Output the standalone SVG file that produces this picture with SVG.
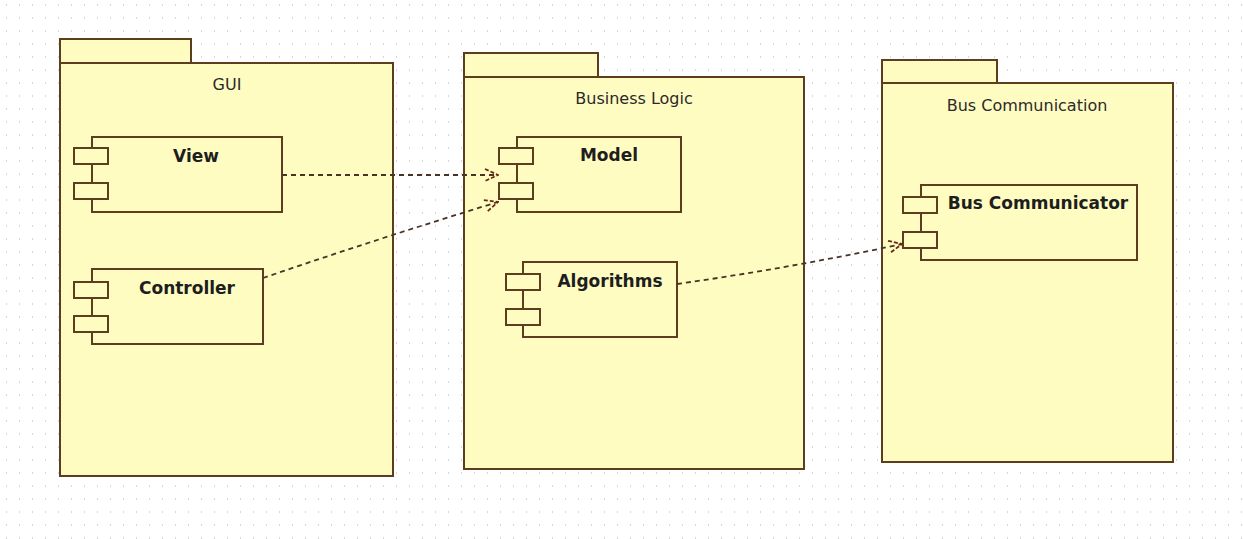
<svg xmlns="http://www.w3.org/2000/svg" width="1243" height="539" viewBox="0 0 1243 539">
  <style>
    .pkg { fill: #fffcc2; stroke: #5c3d1e; stroke-width: 2; }
    .comp { fill: #fffcc2; stroke: #5c3d1e; stroke-width: 2; }
    .port { fill: #fffcc2; stroke: #5c3d1e; stroke-width: 2; }
    .pkg-label { font-family: "DejaVu Sans", Verdana, sans-serif; font-size: 16px; fill: #2a2a2a; text-anchor: middle; }
    .comp-label { font-family: "DejaVu Sans", Verdana, sans-serif; font-size: 17px; font-weight: bold; fill: #1e1e1e; text-anchor: middle; }
    .dep { fill: none; stroke: #4a3326; stroke-width: 1.8; stroke-dasharray: 5 4; marker-end: url(#open-arrow); }
  </style>
  <defs>
    <pattern id="dot-grid" x="6" y="4" width="13" height="13" patternUnits="userSpaceOnUse">
      <rect x="0" y="0" width="1" height="2" fill="#d6d6de"/>
    </pattern>
    <marker id="open-arrow" viewBox="0 0 16 16" refX="15" refY="8" markerWidth="16" markerHeight="16" markerUnits="userSpaceOnUse" orient="auto">
      <path d="M2,2 L15,8 L2,14" fill="none" stroke="#6e2418" stroke-width="1.8" stroke-dasharray="4 2"/>
    </marker>
  </defs>

  <!-- canvas with dotted grid -->
  <rect width="1243" height="539" fill="#ffffff"/>
  <rect width="1243" height="539" fill="url(#dot-grid)"/>

  <!-- package: GUI -->
  <g id="pkg-gui">
    <rect class="pkg" x="60" y="39" width="131" height="24"/>
    <rect class="pkg" x="60" y="63" width="333" height="413"/>
    <text class="pkg-label" x="227" y="90">GUI</text>
  </g>

  <!-- package: Business Logic -->
  <g id="pkg-business-logic">
    <rect class="pkg" x="464" y="53" width="134" height="24"/>
    <rect class="pkg" x="464" y="77" width="340" height="392"/>
    <text class="pkg-label" x="634" y="104">Business Logic</text>
  </g>

  <!-- package: Bus Communication -->
  <g id="pkg-bus-communication">
    <rect class="pkg" x="882" y="60" width="115" height="23"/>
    <rect class="pkg" x="882" y="83" width="291" height="379"/>
    <text class="pkg-label" x="1027" y="111">Bus Communication</text>
  </g>

  <!-- component: View -->
  <g id="comp-view">
    <rect class="comp" x="92" y="137" width="190" height="75"/>
    <rect class="port" x="74" y="148" width="34" height="16"/>
    <rect class="port" x="74" y="183" width="34" height="16"/>
    <text class="comp-label" x="196" y="162">View</text>
  </g>

  <!-- component: Controller -->
  <g id="comp-controller">
    <rect class="comp" x="92" y="269" width="171" height="75"/>
    <rect class="port" x="74" y="282" width="34" height="16"/>
    <rect class="port" x="74" y="316" width="34" height="16"/>
    <text class="comp-label" x="187" y="294">Controller</text>
  </g>

  <!-- component: Model -->
  <g id="comp-model">
    <rect class="comp" x="517" y="137" width="164" height="75"/>
    <rect class="port" x="499" y="148" width="34" height="16"/>
    <rect class="port" x="499" y="183" width="34" height="16"/>
    <text class="comp-label" x="609" y="161">Model</text>
  </g>

  <!-- component: Algorithms -->
  <g id="comp-algorithms">
    <rect class="comp" x="523" y="262" width="154" height="75"/>
    <rect class="port" x="506" y="274" width="34" height="16"/>
    <rect class="port" x="506" y="309" width="34" height="16"/>
    <text class="comp-label" x="610" y="287">Algorithms</text>
  </g>

  <!-- component: Bus Communicator -->
  <g id="comp-bus-communicator">
    <rect class="comp" x="921" y="185" width="216" height="75"/>
    <rect class="port" x="903" y="197" width="34" height="16"/>
    <rect class="port" x="903" y="232" width="34" height="16"/>
    <text class="comp-label" x="1038" y="209">Bus Communicator</text>
  </g>

  <!-- dependencies -->
  <g id="connectors">
    <path class="dep" d="M282,175 L498,175"/>
    <path class="dep" d="M263,278 Q380,238 498,202"/>
    <path class="dep" d="M677,284 Q790,268 902,244"/>
  </g>
</svg>
